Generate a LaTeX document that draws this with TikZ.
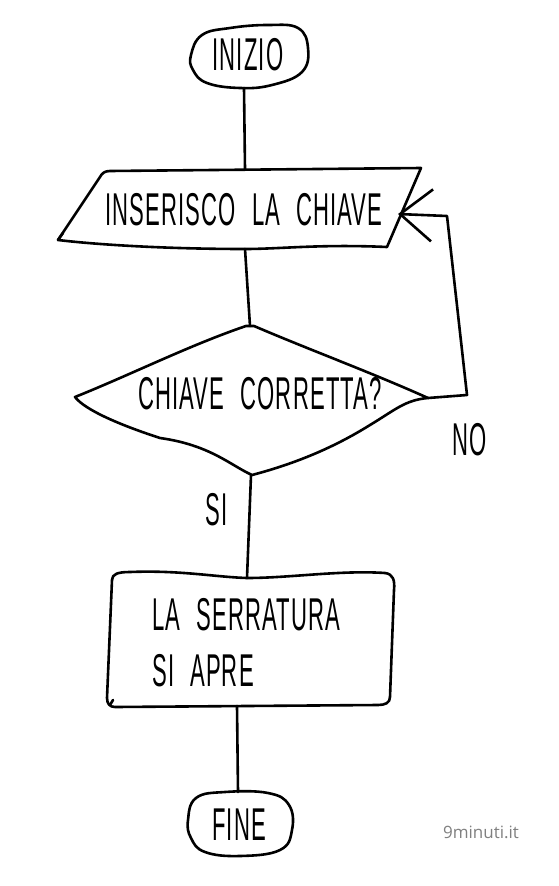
\documentclass[tikz,border=0pt]{standalone}
\usepackage{fontspec}
\setmainfont[FakeStretch=0.48, LetterSpace=2.5, WordSpace=2.2]{Liberation Sans}
\newfontfamily\wmfont{Open Sans}
\usetikzlibrary{arrows.meta}
\begin{document}
\begin{tikzpicture}[x=1pt,y=-1pt,
  hand/.style={draw=black, line width=2.6pt, line cap=round, line join=round},
  conn/.style={draw=black, line width=2.6pt, line cap=round, line join=round},
  lbl/.style={font=\fontsize{46}{56}\selectfont, inner sep=0pt},
  wmark/.style={font=\wmfont\fontsize{17}{20}\selectfont, text=black!50, inner sep=0pt}]
\useasboundingbox[fill=white] (0,0) rectangle (558,886);

% --- shapes ---
% INIZIO terminator
\draw[hand] plot[smooth cycle, tension=0.7] coordinates {
  (191,55) (202,35) (230,28) (268,25) (298,28) (308,48) (302,72) (272,85) (240,88) (207,83) (193,70)};
% input parallelogram
\draw[hand] (110,171) -- (421,168) -- (387,247)
  .. controls (320,244) and (280,249) .. (245,249)
  .. controls (170,249) and (100,245) .. (58,240)
  -- (100,177) .. controls (102,173) and (105,171) .. (110,171) -- cycle;
\draw[hand] (58,240) -- (63,233);
% decision diamond
\draw[hand] (246,326) -- (254,326)
  .. controls (310,350) and (370,372) .. (428,398)
  .. controls (405,400) and (395,410) .. (370,425)
  .. controls (330,450) and (290,465) .. (252,475)
  .. controls (230,465) and (210,445) .. (160,438)
  .. controls (120,425) and (85,410) .. (75,397)
  .. controls (130,375) and (190,345) .. (246,326) -- cycle;
% process box
\draw[hand] (112,580) .. controls (112,574) and (118,572) .. (130,572)
  .. controls (180,570) and (215,577) .. (247,578)
  .. controls (290,578) and (340,570) .. (385,573)
  .. controls (393,574) and (395,580) .. (394,590)
  -- (390,697)
  .. controls (390,703) and (385,705) .. (378,705)
  -- (115,707)
  .. controls (110,707) and (107,704) .. (107,698)
  -- cycle;
\draw[hand] (110,705) -- (113,700);
% FINE terminator
\draw[hand] plot[smooth cycle, tension=0.7] coordinates {
  (188,820) (196,798) (225,792) (268,793) (289,805) (292,830) (280,850) (240,856) (205,852) (191,838)};

% --- texts ---
\node[lbl] (inizio) at (248,55) {INIZIO};
\node[lbl] (inserisco) at (244,210) {INSERISCO LA CHIAVE};
\node[lbl] (domanda) at (260,394) {CHIAVE CORRETTA?};
\node[lbl] (no) at (470,440) {NO};
\node[lbl] (si) at (217,510) {SI};
\node[lbl, anchor=west, align=left] (serratura) at (152,643) {LA SERRATURA\\SI APRE};
\node[lbl] (fine) at (239,825) {FINE};
\node[wmark] (wm) at (481,832) {9minuti.it};

% --- connector anchors ---
\coordinate (inizioS) at (244,88);
\coordinate (insN) at (245,169);
\coordinate (insS) at (245,249);
\coordinate (diaN) at (250,326);
\coordinate (diaS) at (251,475);
\coordinate (diaE) at (428,398);
\coordinate (rectN) at (247,578);
\coordinate (rectS) at (237,706);
\coordinate (fineN) at (238,792);
\coordinate (insE) at (398,214);
\coordinate (loopA) at (467,395);
\coordinate (loopB) at (447,216);

% --- connectors ---
\draw[conn] (inizioS) -- (insN);
\draw[conn] (insS) -- (diaN);
\draw[conn] (diaS) -- (rectN);
\draw[conn] (rectS) -- (fineN);
\draw[conn, -{Straight Barb[length=32pt,width=52pt]}] (diaE) -- (loopA) -- (loopB) -- (insE);
\end{tikzpicture}
\end{document}
